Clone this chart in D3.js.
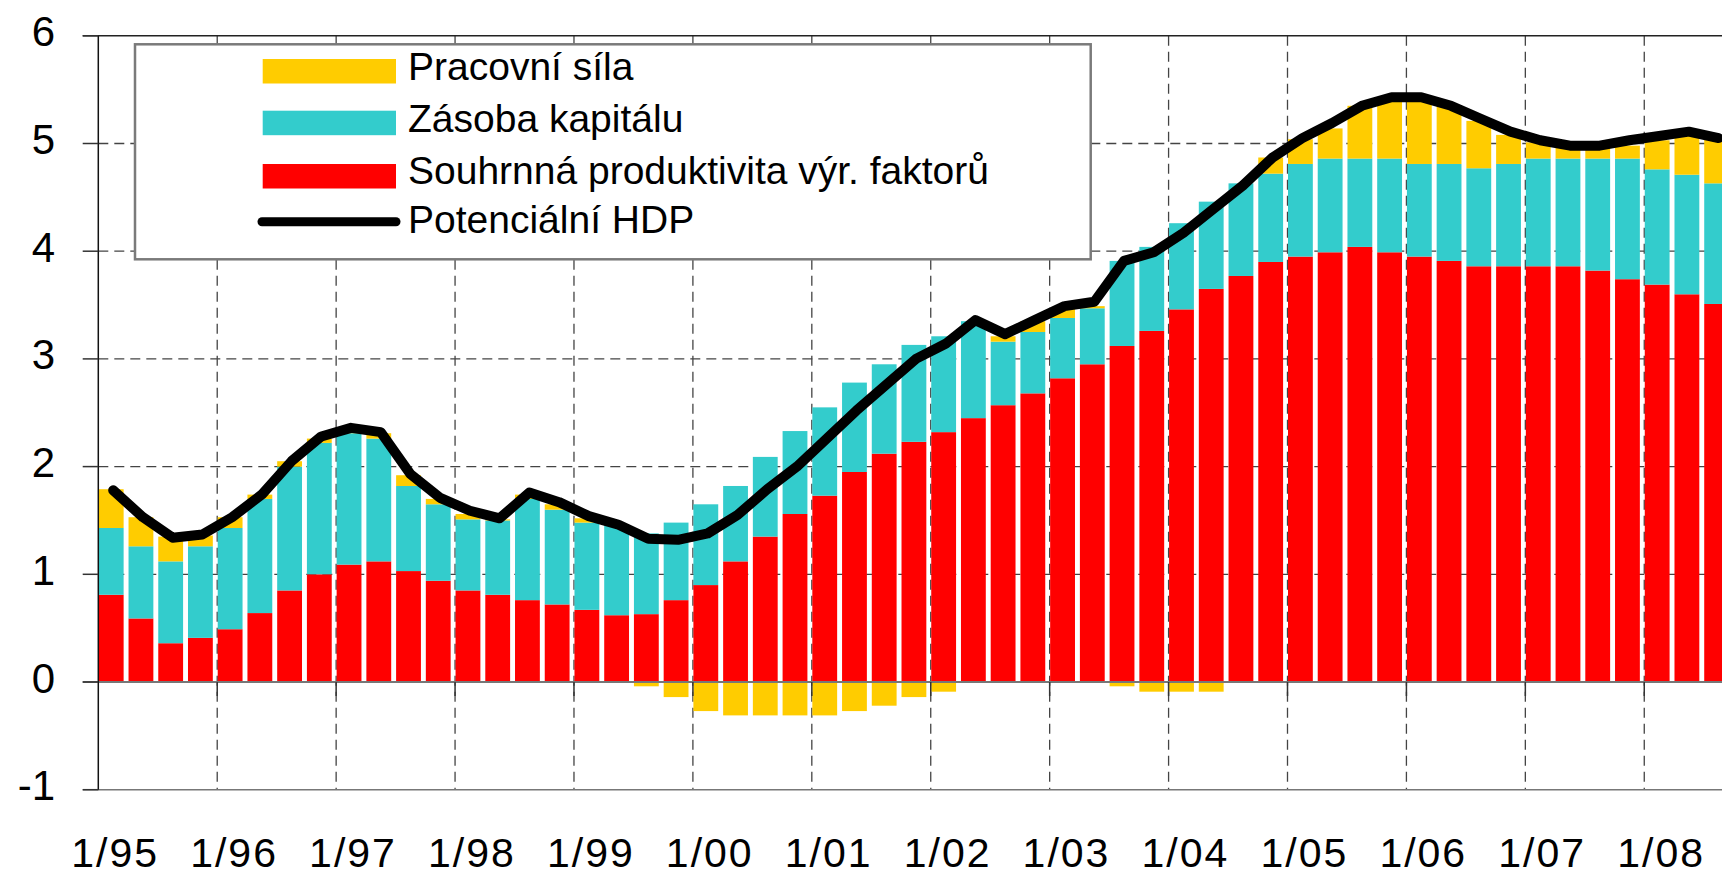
<!DOCTYPE html>
<html>
<head>
<meta charset="utf-8">
<script src="https://cdn.jsdelivr.net/npm/d3@7"></script>
<style>
  html, body { margin: 0; padding: 0; background: #fff; }
  svg { display: block; font-family: "Liberation Sans", Arial, sans-serif; }
</style>
</head>
<body>
<svg id="chart" width="1722" height="877"></svg>
<script>
// ---- data ----
const quarters = [
  "1/95","2/95","3/95","4/95","1/96","2/96","3/96","4/96","1/97","2/97","3/97","4/97",
  "1/98","2/98","3/98","4/98","1/99","2/99","3/99","4/99","1/00","2/00","3/00","4/00",
  "1/01","2/01","3/01","4/01","1/02","2/02","3/02","4/02","1/03","2/03","3/03","4/03",
  "1/04","2/04","3/04","4/04","1/05","2/05","3/05","4/05","1/06","2/06","3/06","4/06",
  "1/07","2/07","3/07","4/07","1/08","2/08","3/08"
];
// Souhrnná produktivita výr. faktorů (red)
const tfp = [
  0.81,0.59,0.36,0.41,0.49,0.64,0.85,1.00,1.09,1.12,1.03,0.94,
  0.85,0.81,0.76,0.72,0.67,0.62,0.63,0.76,0.90,1.12,1.35,1.56,
  1.73,1.95,2.12,2.23,2.32,2.45,2.57,2.68,2.82,2.95,3.12,3.26,
  3.46,3.65,3.77,3.90,3.95,3.99,4.04,3.99,3.95,3.91,3.86,3.86,
  3.86,3.86,3.82,3.74,3.69,3.60,3.51
];
// Zásoba kapitálu (cyan)
const capital = [
  0.62,0.67,0.76,0.85,0.94,1.06,1.15,1.22,1.22,1.14,0.79,0.71,
  0.66,0.69,0.94,0.88,0.81,0.84,0.75,0.72,0.75,0.70,0.74,0.77,
  0.82,0.83,0.83,0.90,0.89,0.90,0.59,0.57,0.56,0.52,0.79,0.78,
  0.80,0.81,0.86,0.82,0.86,0.87,0.82,0.87,0.86,0.90,0.91,0.95,
  1.00,1.00,1.04,1.12,1.07,1.11,1.12
];
// Pracovní síla (yellow)
const labor = [
  0.36,0.27,0.23,0.10,0.10,0.04,0.05,0.04,0.02,0.05,0.10,0.05,
  0.05,0.01,0.04,0.05,0.04,0.00,-0.04,-0.14,-0.27,-0.31,-0.31,-0.31,
  -0.31,-0.27,-0.22,-0.14,-0.09,0.00,0.05,0.10,0.09,0.02,-0.04,-0.09,
  -0.09,-0.09,0.00,0.15,0.23,0.28,0.49,0.54,0.60,0.54,0.44,0.27,
  0.15,0.11,0.11,0.12,0.27,0.37,0.42
];
// Potenciální HDP (black line)
const potential = [
  1.78,1.53,1.34,1.37,1.53,1.74,2.05,2.28,2.36,2.32,1.93,1.71,
  1.59,1.52,1.76,1.67,1.54,1.46,1.33,1.32,1.38,1.55,1.79,2.00,
  2.26,2.52,2.76,3.00,3.14,3.36,3.23,3.36,3.49,3.53,3.91,3.99,
  4.17,4.39,4.61,4.87,5.05,5.19,5.35,5.43,5.43,5.35,5.23,5.11,
  5.03,4.98,4.98,5.03,5.07,5.11,5.05
];
const seriesColors = ["#FF0000", "#33CCCC", "#FFCC00"];
const legendNames = ["Pracovní síla", "Zásoba kapitálu", "Souhrnná produktivita výr. faktorů", "Potenciální HDP"];
const yTicks = [-1, 0, 1, 2, 3, 4, 5, 6];

// ---- layout ----
const svg = d3.select("#chart");
const x0 = 98.3, band = 29.73;
const x = d3.scaleBand().domain(quarters).range([x0, x0 + band * quarters.length]).padding(0);
const y = d3.scaleLinear().domain([-1, 6]).range([789.7, 35.8]);
const xRight = 1722;

const rows = quarters.map((q, i) => ({ q, tfp: tfp[i], capital: capital[i], labor: labor[i] }));
const stack = d3.stack().keys(["tfp", "capital", "labor"]).offset(d3.stackOffsetDiverging);
const stacked = stack(rows);

// gridlines (behind)
const grid = svg.append("g");
[1, 2, 3, 4, 5].forEach(v => {
  grid.append("line").attr("x1", x0).attr("x2", xRight).attr("y1", y(v)).attr("y2", y(v))
    .attr("stroke", "#444").attr("stroke-width", 1.3).attr("stroke-dasharray", "10,6");
});
const yearStarts = quarters.filter(q => q.startsWith("1/"));
yearStarts.slice(1).forEach(q => {
  grid.append("line").attr("x1", x(q)).attr("x2", x(q)).attr("y1", y(6)).attr("y2", y(-1))
    .attr("stroke", "#444").attr("stroke-width", 1.3).attr("stroke-dasharray", "10,6");
});

// bars
const barW = x.bandwidth() * 0.835;
svg.append("g").selectAll("g").data(stacked).join("g")
  .attr("fill", (d, i) => seriesColors[i])
  .selectAll("rect").data(d => d).join("rect")
  .attr("x", d => x(d.data.q) + 0.5)
  .attr("width", barW)
  .attr("y", d => y(Math.max(d[0], d[1])))
  .attr("height", d => Math.abs(y(d[0]) - y(d[1])));

// axes lines
const ax = svg.append("g");
ax.append("line").attr("x1", 82.7).attr("x2", xRight).attr("y1", y(6)).attr("y2", y(6))
  .attr("stroke", "#222").attr("stroke-width", 1.5);
ax.append("line").attr("x1", 82.7).attr("x2", xRight).attr("y1", y(0)).attr("y2", y(0))
  .attr("stroke", "#777").attr("stroke-width", 2);
ax.append("line").attr("x1", 82.7).attr("x2", xRight).attr("y1", y(-1)).attr("y2", y(-1))
  .attr("stroke", "#777").attr("stroke-width", 1.5);
ax.append("line").attr("x1", x0).attr("x2", x0).attr("y1", y(6)).attr("y2", y(-1))
  .attr("stroke", "#111").attr("stroke-width", 1.5);
yTicks.forEach(v => {
  ax.append("line").attr("x1", 82.7).attr("x2", x0).attr("y1", y(v)).attr("y2", y(v))
    .attr("stroke", "#333").attr("stroke-width", 1.5);
});
yearStarts.slice(1).forEach(q => {
  ax.append("line").attr("x1", x(q)).attr("x2", x(q)).attr("y1", y(0)).attr("y2", y(0) + 14)
    .attr("stroke", "#333").attr("stroke-width", 1.5);
});

// y labels
svg.append("g").selectAll("text").data(yTicks).join("text")
  .attr("x", 55).attr("y", d => y(d) + 10.5)
  .attr("text-anchor", "end").attr("font-size", 42).attr("fill", "#000")
  .text(d => d);

// x labels
svg.append("g").selectAll("text").data(yearStarts).join("text")
  .attr("x", d => x(d) + x.bandwidth() / 2 + 2).attr("y", 867)
  .attr("text-anchor", "middle").attr("font-size", 41).attr("letter-spacing", 2).attr("fill", "#000")
  .text(d => d);

// potential line
const line = d3.line().x((d, i) => x(quarters[i]) + x.bandwidth() / 2).y(d => y(d));
svg.append("path").datum(potential).attr("d", line)
  .attr("fill", "none").attr("stroke", "#000").attr("stroke-width", 10)
  .attr("stroke-linejoin", "round").attr("stroke-linecap", "round");

// legend
const lg = svg.append("g");
lg.append("rect").attr("x", 135).attr("y", 44.3).attr("width", 955.7).attr("height", 215)
  .attr("fill", "#fff").attr("stroke", "#7a7a7a").attr("stroke-width", 2.5);
const legColors = [seriesColors[2], seriesColors[1], seriesColors[0]];
const swatchY = [59, 110.7, 164];
legColors.forEach((c, i) => {
  lg.append("rect").attr("x", 262.7).attr("y", swatchY[i]).attr("width", 133.3).attr("height", 24.5).attr("fill", c);
});
lg.append("line").attr("x1", 262).attr("x2", 396).attr("y1", 221.7).attr("y2", 221.7)
  .attr("stroke", "#000").attr("stroke-width", 9).attr("stroke-linecap", "round");
const legBase = [79.5, 131.5, 184, 232.5];
legendNames.forEach((n, i) => {
  lg.append("text").attr("x", 408).attr("y", legBase[i]).attr("font-size", 39).attr("fill", "#000").text(n);
});
</script>
</body>
</html>
